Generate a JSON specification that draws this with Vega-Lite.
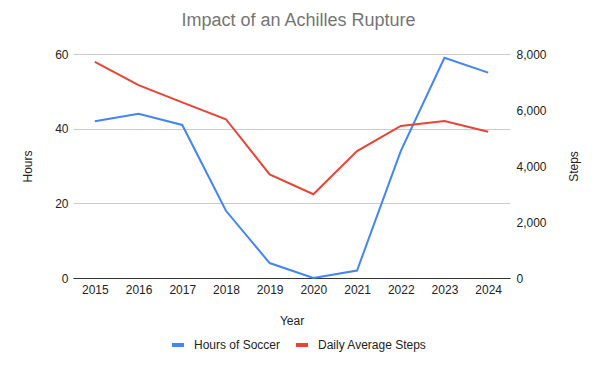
{
  "$schema": "https://vega.github.io/schema/vega-lite/v6.json",
  "width": 437,
  "height": 224,
  "autosize": "none",
  "padding": {"left": 73, "top": 54, "right": 87, "bottom": 91},
  "background": "white",
  "config": {
    "view": {"stroke": null},
    "font": "Liberation Sans",
    "axis": {"labelFont": "Liberation Sans", "titleFont": "Liberation Sans", "labelColor": "#222222", "titleColor": "#222222", "labelFontSize": 12, "titleFontSize": 12, "titleFontWeight": "normal"}
  },
  "title": {"text": "Impact of an Achilles Rupture", "fontSize": 18, "fontWeight": "normal", "color": "#757575", "font": "Liberation Sans", "anchor": "middle", "dx": 7, "offset": 18},
  "data": {
    "values": [
      {"year": "2015", "hours": 42, "steps": 7720},
      {"year": "2016", "hours": 44, "steps": 6890},
      {"year": "2017", "hours": 41, "steps": 6270},
      {"year": "2018", "hours": 18, "steps": 5670},
      {"year": "2019", "hours": 4, "steps": 3700},
      {"year": "2020", "hours": 0, "steps": 2990},
      {"year": "2021", "hours": 2, "steps": 4530},
      {"year": "2022", "hours": 34, "steps": 5430},
      {"year": "2023", "hours": 59, "steps": 5610},
      {"year": "2024", "hours": 55, "steps": 5220}
    ]
  },
  "encoding": {
    "x": {"field": "year", "type": "ordinal", "scale": {"padding": 0.5},
      "axis": {"title": "Year", "labelAngle": 0, "domainColor": "#333333", "ticks": false, "grid": false, "labelPadding": 6, "titleY": 42, "titleBaseline": "middle"}}
  },
  "layer": [
    {
      "mark": {"type": "line", "strokeWidth": 2},
      "encoding": {
        "y": {"field": "hours", "type": "quantitative", "scale": {"domain": [0, 60]},
          "axis": {"title": "Hours", "values": [0, 20, 40, 60], "domain": false, "ticks": false, "gridColor": "#cccccc", "labelPadding": 5, "titleX": -46, "titleY": 112, "titleAngle": -90, "titleAlign": "center", "titleBaseline": "middle"}},
        "color": {"datum": "Hours of Soccer", "type": "nominal",
          "scale": {"domain": ["Hours of Soccer", "Daily Average Steps"], "range": ["#4285F4", "#EA4335"]},
          "legend": {"title": null, "orient": "none", "direction": "horizontal", "legendX": 97, "legendY": 283, "labelFont": "Liberation Sans", "labelFontSize": 12, "labelColor": "#222222", "symbolType": "stroke", "symbolSize": 144, "symbolStrokeWidth": 4, "columnPadding": 7, "labelOffset": 8}}
      }
    },
    {
      "mark": {"type": "line", "strokeWidth": 2},
      "encoding": {
        "y": {"field": "steps", "type": "quantitative", "scale": {"domain": [0, 8000]},
          "axis": {"title": "Steps", "orient": "right", "values": [0, 2000, 4000, 6000, 8000], "format": ",.0f", "domain": false, "ticks": false, "grid": false, "labelPadding": 6, "titleX": 63, "titleY": 112, "titleAngle": -90, "titleAlign": "center", "titleBaseline": "middle"}},
        "color": {"datum": "Daily Average Steps", "type": "nominal"}
      }
    }
  ],
  "resolve": {"scale": {"y": "independent"}}
}
